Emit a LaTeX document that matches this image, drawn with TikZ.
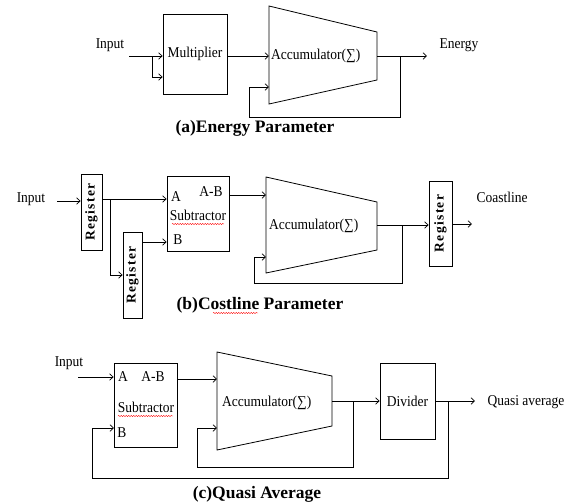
\documentclass[tikz,border=0pt]{standalone}
\usepackage{fontspec}
\setmainfont{Liberation Serif}
\newfontfamily\narrowserif[FakeStretch=0.9]{Liberation Serif}
\usetikzlibrary{arrows.meta,decorations.pathmorphing,shadows,calc}
\begin{document}
\begin{tikzpicture}[x=1pt,y=-1pt,
  box/.style={draw, line width=0.8pt, inner sep=0pt, fill=white,
    drop shadow={shadow xshift=1.2pt, shadow yshift=-1.2pt, fill=black, opacity=0.3}},
  shp/.style={draw, line width=0.8pt, fill=white},
  arr/.style={line width=0.7pt, -{Straight Barb[length=3.5pt,width=6.5pt]}},
  ln/.style={line width=0.7pt},
  txt/.style={font=\narrowserif\fontsize{15}{17}\selectfont, inner sep=0pt},
  captxt/.style={font=\fontsize{17.5}{20}\selectfont\bfseries, inner sep=0pt},
  regt/.style={font=\fontsize{13.5}{15}\selectfont\bfseries\addfontfeature{LetterSpace=10}, rotate=90, inner sep=0pt},
  wavy/.style={red, line width=0.4pt, decorate, decoration={snake, amplitude=0.6pt, segment length=2.5pt}}
]
\useasboundingbox (0,0) rectangle (574,504);

%% ---------------- (a) ----------------
\node[txt] (inA) at (110,45) {Input};
\node[box, minimum width=64pt, minimum height=80pt] (mul) at (195,54) {};
\node[txt] (mult) at (mul.center) {Multiplier};
\coordinate (aA1) at (269,6);
\coordinate (aA2) at (377,32);
\coordinate (aA3) at (377,80);
\coordinate (aA4) at (269,104);
\draw[shp] (aA1) -- (aA2) -- (aA3) -- (aA4) -- cycle;
\node[txt, anchor=west] (accA) at (271,56) {Accumulator(∑)};
\coordinate (a0) at (129,56);
\coordinate (a1) at (152,56);
\coordinate (a2) at (152,77);
\draw[arr] (a0) -- (mul.west |- a0);
\draw[arr] (a1) |- (mul.west |- a2);
\draw[arr] (mul.east |- a0) -- (aA1 |- a0);
\coordinate (aout) at (427,56);
\coordinate (afb) at (400,56);
\coordinate (afc) at (249,117);
\coordinate (afin) at (269,87);
\draw[arr] (aA2 |- a0) -- (aout);
\draw[arr] (afb) |- (afc) |- (afin);
\node[txt] (enA) at (459,45) {Energy};
\node[captxt] (capA) at (255,128) {(a)Energy Parameter};

%% ---------------- (b) ----------------
\node[txt] (inB) at (31,199) {Input};
\node[box, minimum width=21pt, minimum height=76pt] (reg1) at (91.5,212) {};
\node[regt] at (reg1.center) {Register};
\node[box, minimum width=19pt, minimum height=86pt] (reg2) at (132.5,275) {};
\node[regt] at (reg2.center) {Register};
\node[box, minimum width=62pt, minimum height=75pt] (subB) at (198,213.5) {};
\node[txt] (sbA) at (176,197) {A};
\node[txt] (sbAB) at (211,192) {A-B};
\node[txt] (sbS) at (198,215) {Subtractor};
\node[txt] (sbB) at (178,240) {B};
\draw[wavy] (172,224) -- (224,224);
\coordinate (bB1) at (266,177);
\coordinate (bB2) at (377,202);
\coordinate (bB3) at (377,250);
\coordinate (bB4) at (266,273);
\draw[shp] (bB1) -- (bB2) -- (bB3) -- (bB4) -- cycle;
\node[txt, anchor=west] (accB) at (269,226) {Accumulator(∑)};
\node[box, minimum width=23pt, minimum height=85pt] (reg3) at (440.5,223.5) {};
\node[regt] at (reg3.center) {Register};
\coordinate (b0) at (57,201);
\coordinate (bsplit) at (110,199);
\coordinate (bBin) at (150,242);
\coordinate (bAB) at (240,195);
\coordinate (bout) at (402,225);
\coordinate (bfc) at (254,283);
\coordinate (bfin) at (266,257);
\coordinate (bo2) at (472,224);
\draw[arr] (b0) -- (reg1.west |- b0);
\draw[arr] (reg1.east |- bsplit) -- (subB.west |- bsplit);
\draw[arr] (bsplit) |- (reg2.west);
\draw[arr] (reg2.east |- bBin) -- (subB.west |- bBin);
\draw[arr] (subB.east |- bAB) -- (bB1 |- bAB);
\draw[arr] (bB2 |- bout) -- (reg3.west |- bout);
\draw[arr] (bout) |- (bfc) |- (bfin);
\draw[arr] (reg3.east |- bo2) -- (bo2);
\node[txt] (coB) at (502,197) {Coastline};
\node[captxt] (capB) at (260,305) {(b)Costline Parameter};
\draw[wavy] (213,313) -- (258,313);

%% ---------------- (c) ----------------
\node[txt] (inC) at (69,363) {Input};
\node[box, minimum width=63pt, minimum height=84pt] (subC) at (145.5,405) {};
\node[txt] (scA) at (123,377) {A};
\node[txt] (scAB) at (153,377) {A-B};
\node[txt] (scS) at (146,407) {Subtractor};
\node[txt] (scB) at (122,433) {B};
\draw[wavy] (118,416) -- (173,416);
\coordinate (cC1) at (217,352);
\coordinate (cC2) at (332,376);
\coordinate (cC3) at (332,426);
\coordinate (cC4) at (217,450);
\draw[shp] (cC1) -- (cC2) -- (cC3) -- (cC4) -- cycle;
\node[txt, anchor=west] (accC) at (222,403) {Accumulator(∑)};
\node[box, minimum width=55pt, minimum height=76pt] (div) at (407.5,401) {};
\node[txt] (divt) at (div.center) {Divider};
\coordinate (c0) at (78,377);
\coordinate (c1) at (200,379);
\coordinate (cfb1) at (353,401);
\coordinate (cfc1) at (197,467);
\coordinate (cin1) at (217,428);
\coordinate (cfb2) at (448,401);
\coordinate (cfc2) at (92,478);
\coordinate (cB) at (114,428);
\coordinate (cout) at (475,401);
\draw[arr] (c0) -- (subC.west |- c0);
\draw[arr] (subC.east |- c1) -- (cC1 |- c1);
\draw[arr] (cC2 |- cfb1) -- (div.west |- cfb1);
\draw[arr] (cfb1) |- (cfc1) |- (cin1);
\draw[arr] (div.east) -- (cout);
\draw[arr] (cfb2) |- (cfc2) |- (cB);
\node[txt] (qa) at (526,402) {Quasi average};
\node[captxt] (capC) at (257,494) {(c)Quasi Average};
\end{tikzpicture}
\end{document}
